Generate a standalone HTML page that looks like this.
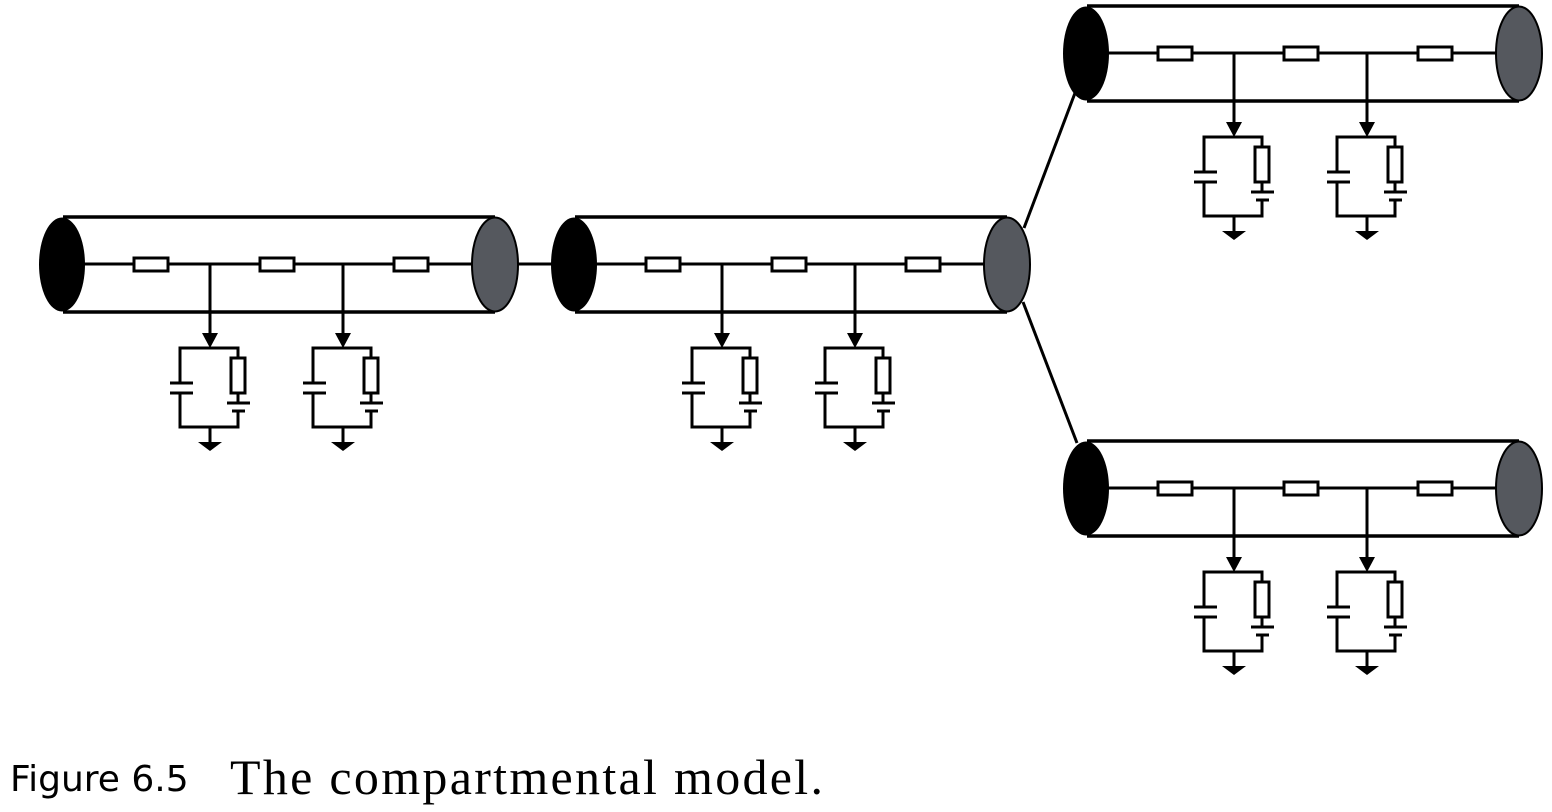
<!DOCTYPE html>
<html><head><meta charset="utf-8">
<style>
html,body{margin:0;padding:0;background:#fff;width:1552px;height:812px;overflow:hidden;}
svg{position:absolute;left:0;top:0;}
.cap1{position:absolute;left:10px;top:762px;font-family:"DejaVu Sans","Liberation Sans",sans-serif;font-size:36px;color:#000;line-height:1;}
.cap2{position:absolute;left:230px;top:752px;font-family:"Liberation Serif",serif;font-size:50px;letter-spacing:2.3px;color:#000;line-height:1;}
</style></head>
<body>
<svg width="1552" height="812" viewBox="0 0 1552 812">
<defs>
<g id="branch" stroke="#000" stroke-width="3" fill="none">
  <line x1="0" y1="264" x2="0" y2="334"/>
  <polygon points="-8,333 8,333 0,348" fill="#000" stroke="none"/>
  <polyline points="-30,383 -30,348 28,348 28,358"/>
  <line x1="-40" y1="383" x2="-17" y2="383"/>
  <line x1="-40" y1="393" x2="-17" y2="393"/>
  <polyline points="-30,393 -30,427 28,427 28,411"/>
  <rect x="21" y="358" width="14" height="35" fill="#fff"/>
  <line x1="28" y1="393" x2="28" y2="403"/>
  <line x1="17" y1="403" x2="40" y2="403"/>
  <line x1="22" y1="411" x2="35" y2="411"/>
  <line x1="0" y1="427" x2="0" y2="442"/>
  <polygon points="-12,442 12,442 0,451" fill="#000" stroke="none"/>
</g>
<g id="unit">
  <line x1="63" y1="217" x2="495" y2="217" stroke="#000" stroke-width="3.5"/>
  <line x1="63" y1="312" x2="495" y2="312" stroke="#000" stroke-width="3.5"/>
  <line x1="63" y1="264" x2="495" y2="264" stroke="#000" stroke-width="3"/>
  <rect x="134" y="258" width="34" height="13" fill="#fff" stroke="#000" stroke-width="3"/>
  <rect x="260" y="258" width="34" height="13" fill="#fff" stroke="#000" stroke-width="3"/>
  <rect x="394" y="258" width="34" height="13" fill="#fff" stroke="#000" stroke-width="3"/>
  <ellipse cx="62" cy="264.5" rx="23" ry="47" fill="#000"/>
  <ellipse cx="495" cy="264.5" rx="23" ry="47" fill="#55585e" stroke="#000" stroke-width="2"/>
  <use href="#branch" x="210"/>
  <use href="#branch" x="343"/>
</g>
</defs>
<line x1="518" y1="264" x2="553" y2="264" stroke="#000" stroke-width="3"/>
<line x1="1024" y1="228" x2="1075" y2="93" stroke="#000" stroke-width="3"/>
<line x1="1023" y1="302" x2="1077" y2="443" stroke="#000" stroke-width="3"/>
<use href="#unit" x="0" y="0"/>
<use href="#unit" x="512" y="0"/>
<use href="#unit" x="1024" y="-211"/>
<use href="#unit" x="1024" y="224"/>
</svg>
<div class="cap1">Figure 6.5</div>
<div class="cap2">The compartmental model.</div>
</body></html>
